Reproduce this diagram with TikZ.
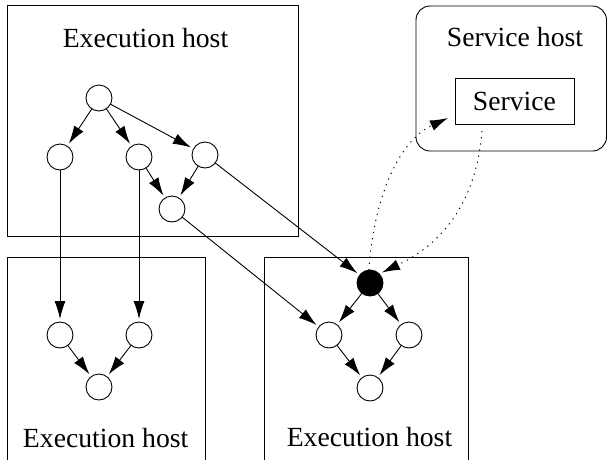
\documentclass[tikz,border=0pt]{standalone}
\usepackage{fontspec}
\setmainfont{Liberation Serif}
\usetikzlibrary{arrows.meta}
\begin{document}
\begin{tikzpicture}[x=1pt,y=-1pt,
  every node/.style={inner sep=0pt,outer sep=0pt},
  label/.style={font=\fontsize{27.7}{33}\selectfont, anchor=base},
  task/.style={circle,draw,line width=0.9pt,minimum size=26pt,fill=white},
  hot/.style={task,fill=black},
  hostbox/.style={draw,line width=0.9pt},
  flow/.style={line width=0.9pt,shorten >=3pt,-{Latex[length=18pt,width=11pt]}},
  call/.style={flow,dash pattern=on 1.2pt off 5pt,line width=1pt}]
\useasboundingbox (0,0) rectangle (608,459);
\clip (0,0) rectangle (608,459);

% hosts
\draw[hostbox] (7,5) rectangle (298,236);
\draw[hostbox] (7,470) -- (7,257) -- (205,257) -- (205,470);
\draw[hostbox] (264,470) -- (264,257) -- (468,257) -- (468,470);
\draw[hostbox,rounded corners=14pt] (416,6) rectangle (606.5,151);
\node[draw,line width=0.9pt,minimum width=119pt,minimum height=46pt] (svc) at (514.5,101) {};

\node[label] at (145.5,47) {Execution host};
\node[label] at (105.7,447) {Execution host};
\node[label] at (369.5,446) {Execution host};
\node[label] at (515,46) {Service host};
\node[label] at (514.5,110) {Service};

% tasks on the upper execution host
\node[task] (r) at (99,98) {};
\node[task] (a) at (60,157) {};
\node[task] (b) at (139,157) {};
\node[task] (c) at (205,155) {};
\node[task] (d) at (172,209) {};

% tasks on the lower left host
\node[task] (la) at (60,335) {};
\node[task] (lb) at (139,335) {};
\node[task] (lc) at (99,387) {};

% tasks on the lower right host
\node[hot]  (x)  at (370,283) {};
\node[task] (ra) at (329,335) {};
\node[task] (rb) at (409,335) {};
\node[task] (rc) at (370,388) {};

% dependencies
\draw[flow] (r) -- (a);
\draw[flow] (r) -- (b);
\draw[flow] (r) -- (c);
\draw[flow] (b) -- (d);
\draw[flow] (c) -- (d);
\draw[flow] (a) -- (la);
\draw[flow] (b) -- (lb);
\draw[flow] (d) -- (ra);
\draw[flow] (c) -- (x);
\draw[flow] (la) -- (lc);
\draw[flow] (lb) -- (lc);
\draw[flow] (x) -- (ra);
\draw[flow] (x) -- (rb);
\draw[flow] (ra) -- (rc);
\draw[flow] (rb) -- (rc);

% service calls
\coordinate (callin) at (448,118);
\coordinate (retout) at (482,131);
\draw[call,shorten >=0pt] (x.95) .. controls (374,195) and (400,140) .. (callin);
\draw[call] (retout) .. controls (476,205) and (440,245) .. (x.45);
\end{tikzpicture}
\end{document}
